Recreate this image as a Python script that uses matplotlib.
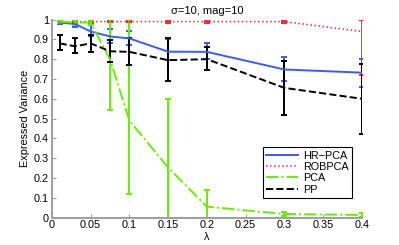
import matplotlib
matplotlib.use('Agg')
import matplotlib.pyplot as plt
from matplotlib.lines import Line2D
import numpy as np

plt.rcParams['font.family'] = ['Liberation Sans', 'DejaVu Sans']
plt.rcParams['font.size'] = 7.8

lam = [0.01, 0.03, 0.05, 0.075, 0.1, 0.15, 0.2, 0.3, 0.4]

hr_mean = [0.985, 0.978, 0.94, 0.915, 0.905, 0.838, 0.837, 0.748, 0.732]
hr_low = [0.98, 0.965, 0.915, 0.88, 0.87, 0.795, 0.80, 0.69, 0.66]
hr_high = [0.99, 0.99, 0.977, 0.955, 0.943, 0.90, 0.883, 0.81, 0.80]

rob_mean = [0.99, 0.99, 0.99, 0.99, 0.99, 0.99, 0.99, 0.99, 0.94]
rob_low = [0.987, 0.985, 0.987, 0.987, 0.987, 0.985, 0.985, 0.985, 0.72]
rob_high = [0.993, 0.995, 0.993, 0.993, 0.993, 0.995, 0.995, 0.995, 1.0]

pca_mean = [0.99, 0.985, 0.985, 0.80, 0.49, 0.253, 0.055, 0.018, 0.013]
pca_low = [0.985, 0.975, 0.975, 0.545, 0.12, 0.0, 0.0, 0.008, 0.005]
pca_high = [0.995, 0.995, 0.995, 1.02, 1.05, 0.598, 0.137, 0.028, 0.024]

pp_mean = [0.88, 0.865, 0.88, 0.84, 0.837, 0.795, 0.80, 0.655, 0.60]
pp_low = [0.846, 0.83, 0.834, 0.784, 0.77, 0.69, 0.745, 0.52, 0.42]
pp_high = [0.92, 0.907, 0.92, 0.896, 0.905, 0.905, 0.863, 0.792, 0.775]

x_ticks = [0, 0.05, 0.1, 0.15, 0.2, 0.25, 0.3, 0.35, 0.4]
x_labels = ['0', '0.05', '0.1', '0.15', '0.2', '0.25', '0.3', '0.35', '0.4']
y_ticks = [0, 0.1, 0.2, 0.3, 0.4, 0.5, 0.6, 0.7, 0.8, 0.9, 1.0]
y_labels = ['0', '0.1', '0.2', '0.3', '0.4', '0.5', '0.6', '0.7', '0.8', '0.9', '1']


def err(mean, low, high):
    mean = np.array(mean)
    return [mean - np.array(low), np.array(high) - mean]


fig = plt.figure(figsize=(3.99, 2.45), dpi=100)
ax = fig.add_axes([0.130, 0.112, 0.777, 0.808])

series = [
    (hr_mean, hr_low, hr_high, '#3a5cff', '-', 1.4, 'HR\u2212PCA'),
    (rob_mean, rob_low, rob_high, '#ff2a2a', ':', 1.1, 'ROBPCA'),
    (pca_mean, pca_low, pca_high, '#66ee00', '-.', 1.4, 'PCA'),
    (pp_mean, pp_low, pp_high, 'black', '--', 1.4, 'PP'),
]
handles = []
for mean, low, high, col, ls, lw, name in series:
    ax.errorbar(lam, mean, yerr=err(mean, low, high), color=col, linestyle=ls,
                linewidth=lw, elinewidth=1.4, capsize=2.5, capthick=1.4)
    handles.append(Line2D([], [], color=col, linestyle=ls, linewidth=lw, label=name))

ax.set_xlim(0, 0.4)
ax.set_ylim(0, 1)
ax.set_xticks(x_ticks)
ax.set_xticklabels(x_labels)
ax.set_yticks(y_ticks)
ax.set_yticklabels(y_labels)
ax.spines['top'].set_visible(False)
ax.spines['right'].set_visible(False)
for s in ['left', 'bottom']:
    ax.spines[s].set_color('#a0a0a0')
    ax.spines[s].set_linewidth(1.5)
ax.tick_params(direction='in', length=3, color='#a0a0a0', width=0.8, pad=2)

ax.set_xlabel('\u03bb', labelpad=1)
ax.set_ylabel('Expressed Variance', labelpad=3)
ax.set_title('\u03c3=10, mag=10', fontsize=8, pad=4)

leg = ax.legend(handles=handles, loc='lower left', bbox_to_anchor=(0.68, 0.1),
                fancybox=False, edgecolor='black', framealpha=1, handlelength=3.0,
                borderpad=0.3, labelspacing=0.12, handletextpad=0.4,
                borderaxespad=0)
leg.get_frame().set_linewidth(0.8)

fig.savefig('out.png', dpi=100)
